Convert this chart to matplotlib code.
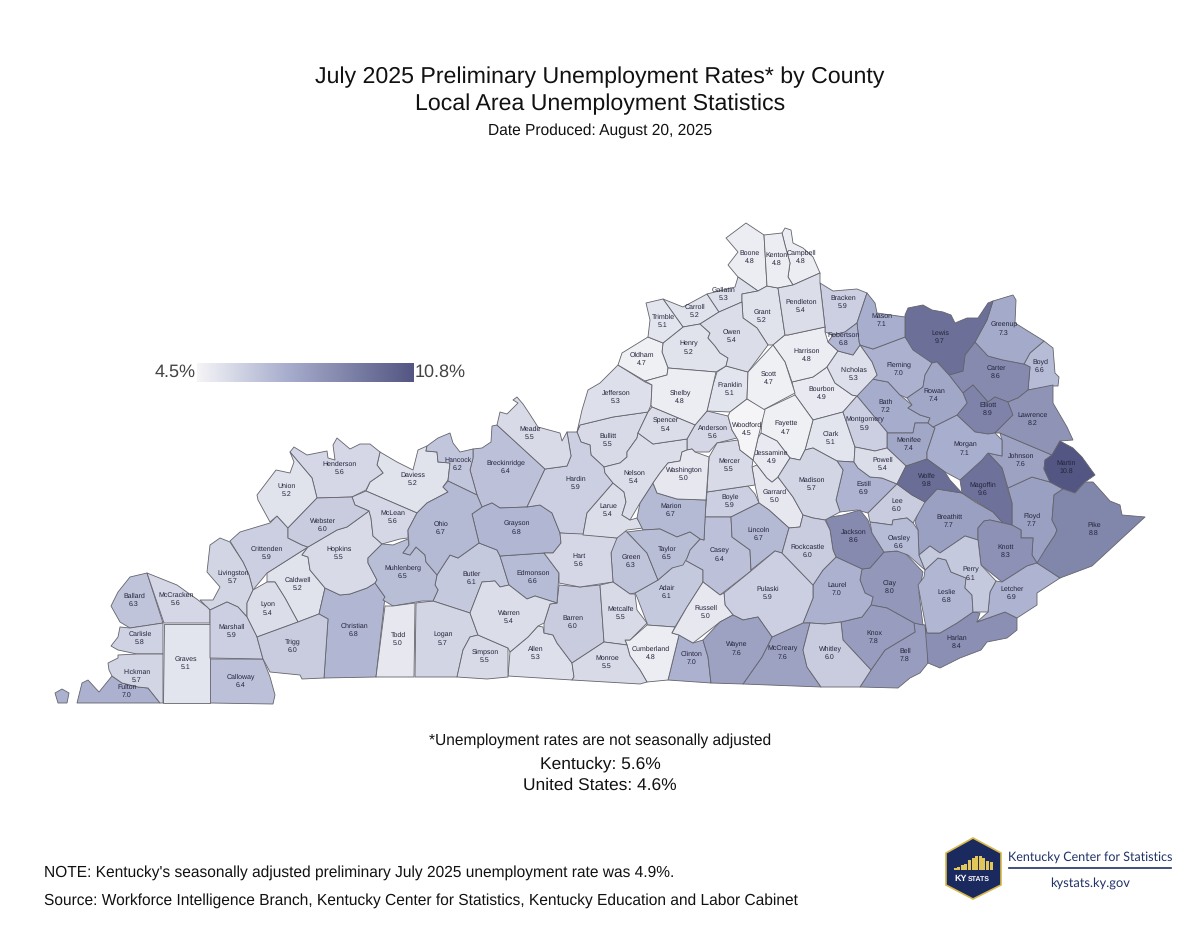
import numpy as np
import matplotlib
matplotlib.use('Agg')
import matplotlib.pyplot as plt
from matplotlib.colors import LinearSegmentedColormap, Normalize

plt.rcParams['font.family'] = ['Liberation Sans', 'DejaVu Sans']
plt.rcParams['text.hinting'] = 'none'

# 郡ごとの失業率 (from the map labels)
counties = ['Adair', 'Allen', 'Anderson', 'Ballard', 'Barren', 'Bath', 'Bell', 'Boone', 'Bourbon', 'Boyd',
            'Boyle', 'Bracken', 'Breathitt', 'Breckinridge', 'Bullitt', 'Butler', 'Caldwell', 'Calloway',
            'Campbell', 'Carlisle', 'Carroll', 'Carter', 'Casey', 'Christian', 'Clark', 'Clay', 'Clinton',
            'Crittenden', 'Cumberland', 'Daviess', 'Edmonson', 'Elliott', 'Estill', 'Fayette', 'Fleming',
            'Floyd', 'Franklin', 'Fulton', 'Gallatin', 'Garrard', 'Grant', 'Graves', 'Grayson', 'Green',
            'Greenup', 'Hancock', 'Hardin', 'Harlan', 'Harrison', 'Hart', 'Henderson', 'Henry', 'Hickman',
            'Hopkins', 'Jackson', 'Jefferson', 'Jessamine', 'Johnson', 'Kenton', 'Knott', 'Knox', 'Larue',
            'Laurel', 'Lawrence', 'Lee', 'Leslie', 'Letcher', 'Lewis', 'Lincoln', 'Livingston', 'Logan',
            'Lyon', 'McCracken', 'McCreary', 'McLean', 'Madison', 'Magoffin', 'Marion', 'Marshall', 'Martin',
            'Mason', 'Meade', 'Menifee', 'Mercer', 'Metcalfe', 'Monroe', 'Montgomery', 'Morgan', 'Muhlenberg',
            'Nelson', 'Nicholas', 'Ohio', 'Oldham', 'Owen', 'Owsley', 'Pendleton', 'Perry', 'Pike', 'Powell',
            'Pulaski', 'Robertson', 'Rockcastle', 'Rowan', 'Russell', 'Scott', 'Shelby', 'Simpson', 'Spencer',
            'Taylor', 'Todd', 'Trigg', 'Trimble', 'Union', 'Warren', 'Washington', 'Wayne', 'Webster',
            'Whitley', 'Wolfe', 'Woodford']
rates = [6.1, 5.3, 5.6, 6.3, 6.0, 7.2, 7.8, 4.8, 4.9, 6.6,
         5.9, 5.9, 7.7, 6.4, 5.5, 6.1, 5.2, 6.4,
         4.8, 5.8, 5.2, 8.6, 6.4, 6.8, 5.1, 8.0, 7.0,
         5.9, 4.8, 5.2, 6.6, 8.9, 6.9, 4.7, 7.0,
         7.7, 5.1, 7.0, 5.3, 5.0, 5.2, 5.1, 6.8, 6.3,
         7.3, 6.2, 5.9, 8.4, 4.8, 5.6, 5.6, 5.2, 5.7,
         5.5, 8.6, 5.3, 4.9, 7.6, 4.8, 8.3, 7.8, 5.4,
         7.0, 8.2, 6.0, 6.8, 6.9, 9.7, 6.7, 5.7, 5.7,
         5.4, 5.6, 7.6, 5.6, 5.7, 9.6, 6.7, 5.9, 10.8,
         7.1, 5.5, 7.4, 5.5, 5.5, 5.5, 5.9, 7.1, 6.5,
         5.4, 5.3, 6.7, 4.7, 5.4, 6.6, 5.4, 6.1, 8.8, 5.4,
         5.9, 6.8, 6.0, 7.4, 5.0, 4.7, 4.8, 5.5, 5.4,
         6.5, 5.0, 6.0, 5.1, 5.2, 5.4, 5.0, 7.6, 6.0,
         6.0, 9.8, 4.5]

outlines = {
    'Fulton': [(77,703),(82,683),(88,680),(99,692),(112,676),(122,683),(138,687),(148,688),(160,703)],
    'Hickman': [(108,663),(118,658),(118,655),(137,654),(163,654),(163,703),(160,703),(148,688),(138,687),(122,683),(112,676),(109,670)],
    'Carlisle': [(120,627),(130,628),(150,625),(163,623),(163,654),(137,654),(118,650),(111,646),(118,637)],
    'Ballard': [(147,573),(163,623),(150,625),(130,628),(120,622),(111,606),(118,592),(130,577)],
    'McCracken': [(147,573),(177,585),(198,600),(207,607),(210,610),(210,623),(164,623)],
    'Graves': [(164,624),(210,624),(210,703),(163,703)],
    'Marshall': [(210,610),(227,602),(238,607),(247,617),(257,637),(263,659),(210,658)],
    'Calloway': [(210,659),(263,659),(270,677),(275,695),(273,704),(210,703)],
    'Livingston': [(220,538),(230,542),(243,562),(249,575),(253,590),(247,603),(247,617),(238,607),(227,602),(210,610),(207,607),(200,600),(213,600),(220,587),(207,572),(210,545)],
    'Crittenden': [(230,541),(240,532),(270,523),(277,516),(288,528),(288,538),(302,545),(308,547),(267,573),(253,590),(249,575),(243,562)],
    'Union': [(290,452),(312,478),(317,498),(288,528),(277,516),(270,522),(258,500),(257,495),(276,470),(290,473),(294,462)],
    'Henderson': [(290,452),(294,447),(307,455),(327,451),(328,458),(335,460),(333,445),(337,438),(350,449),(360,444),(370,444),(380,452),(377,465),(383,473),(370,482),(366,490),(352,497),(317,498),(312,478)],
    'Webster': [(317,498),(352,497),(355,505),(369,511),(347,527),(337,530),(308,547),(302,545),(288,538),(288,528)],
    'Daviess': [(380,452),(397,462),(413,470),(418,450),(427,446),(426,451),(437,452),(438,462),(450,463),(448,480),(443,487),(448,492),(427,503),(417,513),(366,491),(370,482),(383,473),(377,465)],
    'Hancock': [(427,446),(438,438),(450,433),(453,443),(460,452),(473,449),(473,458),(470,470),(477,495),(448,481),(450,463),(438,462),(437,452),(426,451)],
    'McLean': [(352,497),(366,491),(417,513),(408,530),(408,538),(400,539),(382,544),(373,536),(371,518),(369,511),(355,505)],
    'Ohio': [(448,481),(477,495),(482,507),(472,514),(479,543),(458,558),(450,555),(437,575),(426,562),(425,555),(416,547),(410,555),(403,553),(409,545),(408,530),(417,513),(427,503),(448,492),(443,487)],
    'Muhlenberg': [(368,558),(382,544),(393,545),(408,539),(409,545),(403,553),(410,555),(416,547),(425,555),(426,562),(437,575),(435,585),(438,590),(433,601),(422,601),(393,606),(383,600),(385,597),(375,583),(377,580),(368,563)],
    'Christian': [(325,588),(340,595),(350,594),(367,588),(375,583),(385,597),(376,677),(324,678),(328,619),(319,614)],
    'Hopkins': [(369,511),(371,518),(373,536),(382,544),(368,558),(368,563),(377,580),(375,583),(367,588),(350,594),(340,595),(325,588),(310,570),(308,557),(302,555),(308,547),(337,530),(347,527)],
    'Caldwell': [(267,573),(308,547),(302,555),(308,557),(310,570),(325,588),(319,614),(298,622),(285,598),(275,582),(267,582)],
    'Lyon': [(253,590),(267,582),(275,582),(285,598),(298,622),(257,637),(247,617),(247,603)],
    'Trigg': [(257,637),(298,622),(319,614),(328,619),(324,678),(302,679),(300,675),(270,672),(263,659)],
    'Todd': [(385,606),(393,606),(415,603),(414,677),(376,677)],
    'Logan': [(416,603),(433,601),(470,613),(478,635),(470,637),(463,650),(457,677),(415,677)],
    'Butler': [(433,601),(438,590),(435,585),(437,575),(450,555),(458,558),(479,543),(497,550),(500,556),(509,585),(500,587),(495,581),(482,582),(470,613)],
    'Warren': [(482,582),(495,581),(500,587),(509,585),(527,599),(535,596),(557,603),(550,604),(544,623),(538,626),(528,637),(510,652),(508,648),(478,635),(470,613)],
    'Simpson': [(478,635),(508,648),(508,677),(487,679),(457,677),(463,650),(470,637)],
    'Allen': [(510,652),(528,637),(538,626),(543,627),(544,633),(553,635),(557,643),(572,663),(574,677),(572,680),(508,676)],
    'Edmonson': [(500,556),(544,553),(559,573),(557,603),(535,596),(527,599),(509,585)],
    'Grayson': [(472,514),(482,507),(492,503),(500,508),(527,507),(540,505),(552,513),(560,533),(561,543),(553,553),(544,553),(500,556),(497,550),(479,543)],
    'Breckinridge': [(492,426),(497,425),(545,469),(527,507),(500,508),(492,503),(482,507),(477,495),(470,470),(473,458),(473,449),(482,448),(491,442)],
    'Meade': [(497,425),(500,412),(507,414),(518,403),(513,400),(517,397),(523,404),(529,413),(538,427),(560,433),(562,441),(567,432),(571,456),(567,466),(545,469)],
    'Hardin': [(567,432),(577,432),(581,442),(590,445),(591,455),(604,467),(605,473),(613,483),(587,513),(583,535),(560,533),(552,513),(540,505),(527,507),(545,469),(567,466),(571,456)],
    'Jefferson': [(618,365),(645,382),(652,385),(651,405),(648,412),(613,417),(580,425),(577,432),(582,410),(588,390),(600,383)],
    'Bullitt': [(577,432),(580,425),(613,417),(648,412),(638,433),(637,438),(627,452),(627,457),(620,463),(604,467),(591,455),(590,445),(581,442)],
    'Spencer': [(652,407),(695,425),(687,439),(653,444),(638,433),(648,412)],
    'Nelson': [(638,433),(653,444),(687,439),(687,450),(682,452),(680,461),(668,463),(660,473),(653,483),(640,503),(630,520),(622,515),(626,502),(624,492),(613,483),(605,473),(604,467),(620,463),(627,457),(627,452),(637,438)],
    'Larue': [(613,483),(624,492),(626,502),(622,515),(630,520),(637,518),(643,528),(627,530),(617,538),(583,535),(587,513)],
    'Washington': [(653,483),(660,473),(668,463),(680,461),(682,452),(687,450),(692,449),(695,452),(709,457),(706,500),(677,499),(657,493)],
    'Marion': [(653,483),(657,493),(677,499),(706,500),(704,540),(700,539),(690,532),(677,537),(660,529),(643,530),(637,518),(640,503)],
    'Green': [(618,529),(627,532),(647,553),(658,580),(635,593),(630,594),(613,582),(611,553)],
    'Taylor': [(627,532),(643,530),(660,529),(677,537),(690,532),(700,539),(690,550),(687,558),(683,565),(672,568),(658,580),(647,553)],
    'Hart': [(560,533),(583,534),(617,538),(611,553),(613,582),(580,587),(559,583),(559,573),(544,553),(553,553),(561,543)],
    'Barren': [(559,585),(580,587),(600,585),(604,642),(572,663),(557,643),(553,635),(544,633),(544,623),(550,604),(557,603)],
    'Metcalfe': [(600,585),(613,582),(630,594),(635,594),(637,610),(647,623),(630,640),(625,640),(627,645),(604,642)],
    'Monroe': [(574,677),(572,663),(604,642),(627,645),(630,656),(640,670),(647,682),(640,684),(572,680)],
    'Cumberland': [(647,625),(675,627),(672,633),(679,635),(668,680),(647,682),(640,670),(630,656),(627,645),(625,640),(630,640)],
    'Adair': [(635,593),(658,580),(672,568),(683,559),(703,570),(703,582),(687,607),(675,627),(647,625),(647,623),(637,597)],
    'Casey': [(700,539),(704,540),(705,517),(731,517),(732,537),(750,550),(751,571),(720,595),(703,582),(703,570),(683,559),(687,558),(690,550)],
    'Boyle': [(707,492),(748,486),(755,494),(759,503),(731,517),(705,517)],
    'Mercer': [(709,457),(717,443),(738,440),(740,450),(753,460),(752,467),(755,485),(748,486),(707,492)],
    'Anderson': [(687,439),(695,425),(707,411),(728,416),(732,430),(737,438),(717,443),(709,452),(695,452),(692,449),(687,450)],
    'Woodford': [(730,412),(747,399),(765,410),(758,438),(753,460),(740,450),(738,440),(732,430),(728,416)],
    'Lincoln': [(731,517),(759,503),(769,510),(789,528),(782,553),(775,551),(751,570),(750,550),(732,537)],
    'Garrard': [(752,467),(757,465),(767,478),(772,482),(778,477),(793,497),(803,515),(800,527),(789,528),(769,510),(759,503),(755,485)],
    'Jessamine': [(761,433),(777,441),(790,458),(778,477),(772,482),(767,478),(757,465),(753,460),(758,438)],
    'Fayette': [(763,410),(795,395),(813,420),(805,450),(800,460),(790,458),(777,441),(761,433)],
    'Scott': [(748,372),(773,345),(785,362),(795,393),(763,410),(747,399)],
    'Franklin': [(717,372),(726,366),(748,372),(747,399),(730,412),(707,411),(713,385)],
    'Shelby': [(645,381),(667,375),(668,368),(716,372),(713,385),(707,411),(695,425),(652,407),(651,405),(652,385)],
    'Oldham': [(618,365),(622,353),(648,337),(663,343),(662,352),(668,368),(667,375),(645,381)],
    'Henry': [(663,343),(683,327),(700,324),(710,333),(708,338),(715,346),(720,353),(728,358),(726,366),(716,372),(668,368),(662,352)],
    'Trimble': [(646,303),(663,299),(683,327),(663,343),(648,337),(650,320)],
    'Carroll': [(663,299),(683,307),(707,294),(719,312),(700,324),(683,327)],
    'Gallatin': [(707,294),(735,287),(738,277),(758,291),(742,294),(742,302),(719,312)],
    'Owen': [(700,324),(719,312),(742,302),(743,318),(757,328),(768,345),(748,372),(726,366),(728,358),(720,353),(715,346),(708,338),(710,333)],
    'Grant': [(742,294),(758,291),(767,286),(778,288),(785,335),(773,345),(768,345),(757,328),(743,318),(742,302)],
    'Boone': [(726,238),(746,223),(764,235),(767,286),(758,291),(738,277),(728,265),(738,252)],
    'Kenton': [(764,235),(782,233),(785,245),(790,263),(788,277),(793,285),(778,288),(767,286)],
    'Campbell': [(782,233),(785,228),(791,230),(793,243),(803,248),(813,257),(820,273),(793,285),(788,277),(790,263),(785,245)],
    'Pendleton': [(778,288),(793,285),(820,273),(820,283),(825,327),(788,335),(785,335)],
    'Bracken': [(820,283),(833,291),(857,289),(867,293),(857,323),(845,332),(833,335),(825,332),(825,327)],
    'Robertson': [(828,342),(833,335),(845,332),(857,323),(859,342),(860,345),(853,355),(838,351)],
    'Mason': [(867,293),(875,303),(877,313),(905,317),(905,337),(873,349),(860,345),(859,342),(857,323)],
    'Harrison': [(785,335),(788,335),(825,327),(825,332),(828,342),(838,351),(827,367),(813,377),(792,382),(785,362),(773,345)],
    'Nicholas': [(838,351),(853,355),(860,345),(872,362),(877,375),(857,396),(852,395),(835,383),(827,367)],
    'Bourbon': [(792,382),(813,377),(827,367),(835,383),(852,395),(857,396),(843,412),(813,420),(795,395)],
    'Clark': [(813,420),(843,412),(855,447),(854,462),(837,461),(813,448),(805,450)],
    'Montgomery': [(843,412),(857,396),(887,432),(887,448),(875,451),(855,447)],
    'Bath': [(857,396),(872,379),(888,382),(900,395),(912,405),(908,408),(920,415),(930,418),(928,423),(915,423),(913,433),(888,433),(887,432)],
    'Fleming': [(873,349),(905,337),(932,363),(925,375),(923,387),(907,398),(900,395),(888,382),(872,379),(877,375),(872,362),(860,345)],
    'Lewis': [(905,315),(908,308),(923,305),(932,310),(943,312),(951,315),(955,323),(967,318),(978,318),(988,303),(993,301),(987,320),(975,342),(965,355),(963,371),(949,375),(937,362),(932,363),(913,350),(905,337)],
    'Greenup': [(993,301),(1013,295),(1016,300),(1015,323),(1044,341),(1030,353),(1024,364),(1003,360),(988,356),(975,342),(987,320)],
    'Boyd': [(1044,341),(1053,348),(1055,373),(1059,377),(1058,386),(1053,386),(1028,390),(1030,367),(1024,364),(1030,353)],
    'Carter': [(975,342),(988,356),(1003,360),(1024,364),(1030,367),(1028,390),(1018,398),(1008,402),(995,397),(988,402),(973,385),(963,393),(949,375),(963,371),(965,355)],
    'Rowan': [(937,362),(949,375),(963,393),(967,403),(957,415),(933,427),(928,423),(930,418),(920,415),(908,408),(912,405),(907,398),(923,387),(925,375),(932,363)],
    'Elliott': [(973,385),(988,402),(995,397),(1008,402),(1013,415),(995,433),(988,434),(975,432),(959,417),(957,415),(967,403),(963,393)],
    'Lawrence': [(1008,402),(1018,398),(1028,390),(1053,385),(1053,403),(1067,427),(1073,440),(1060,441),(1052,455),(1000,433),(995,433),(1013,415)],
    'Morgan': [(933,427),(957,415),(959,417),(975,432),(988,434),(995,433),(1002,440),(1002,456),(988,453),(982,460),(960,480),(945,472),(927,459),(927,452),(935,428)],
    'Menifee': [(887,433),(888,433),(913,433),(915,423),(928,423),(935,428),(927,452),(927,459),(913,464),(906,466),(887,448)],
    'Powell': [(855,447),(875,451),(887,448),(906,466),(897,484),(882,478),(870,477),(858,468),(854,462)],
    'Wolfe': [(906,466),(927,459),(945,472),(950,480),(962,493),(937,489),(925,502),(912,495),(897,484)],
    'Magoffin': [(960,480),(982,460),(980,453),(988,453),(1002,468),(1008,490),(1012,503),(1012,525),(1002,522),(993,512),(962,493)],
    'Johnson': [(1000,433),(1052,455),(1045,460),(1044,469),(1050,482),(1032,477),(1008,488),(1002,468),(988,453),(1002,456),(1002,440)],
    'Martin': [(1045,460),(1052,455),(1060,441),(1073,448),(1082,457),(1095,475),(1085,482),(1075,493),(1063,489),(1050,482),(1044,469)],
    'Pike': [(1075,493),(1085,482),(1093,482),(1102,492),(1110,501),(1120,505),(1122,515),(1145,517),(1092,566),(1060,578),(1037,563),(1045,550),(1055,535),(1057,530),(1052,520),(1054,495),(1063,489)],
    'Floyd': [(1008,488),(1032,477),(1050,482),(1063,489),(1054,495),(1052,520),(1057,530),(1055,535),(1045,550),(1044,557),(1037,563),(1032,555),(1033,538),(1021,538),(1021,530),(1012,525),(1012,503)],
    'Knott': [(978,528),(984,521),(990,520),(1003,523),(1012,525),(1021,530),(1021,538),(1033,538),(1032,555),(1037,563),(1027,566),(1002,582),(981,565),(978,540)],
    'Letcher': [(1002,582),(1027,566),(1037,563),(1048,570),(1060,578),(1037,593),(1037,605),(1017,618),(1005,612),(977,622),(988,612),(990,592),(996,581)],
    'Perry': [(919,555),(930,546),(940,553),(965,536),(978,540),(981,565),(996,581),(990,592),(988,612),(973,612),(972,595),(965,588),(966,578),(951,572),(946,560),(938,558),(925,570)],
    'Leslie': [(925,570),(938,558),(946,560),(951,572),(966,578),(965,588),(972,595),(973,612),(957,623),(940,633),(927,633),(918,585),(924,577)],
    'Harlan': [(927,633),(940,633),(957,623),(973,612),(980,613),(977,622),(1005,612),(1017,618),(1017,630),(1007,638),(987,642),(981,650),(960,658),(940,668),(928,663),(925,625)],
    'Bell': [(914,623),(925,625),(927,633),(928,663),(920,673),(910,678),(898,688),(860,687),(871,670),(885,650),(915,632)],
    'Knox': [(841,622),(862,617),(871,605),(887,608),(914,623),(915,632),(885,650),(871,670),(843,640)],
    'Clay': [(884,552),(903,551),(923,572),(919,593),(923,625),(914,623),(887,608),(871,605),(873,597),(865,593),(860,580),(862,569),(870,568)],
    'Jackson': [(825,518),(843,515),(860,510),(868,520),(872,533),(884,552),(870,568),(862,569),(836,557),(833,550),(830,530)],
    'Owsley': [(870,522),(892,525),(893,520),(907,518),(913,523),(918,530),(919,555),(925,570),(908,555),(897,551),(884,552),(872,533)],
    'Lee': [(868,513),(897,484),(912,495),(925,502),(913,523),(907,518),(893,520),(892,525),(870,522)],
    'Estill': [(837,461),(854,462),(858,468),(870,477),(882,478),(897,484),(868,513),(857,510),(840,512),(836,500),(843,470)],
    'Madison': [(778,477),(790,458),(800,460),(805,450),(813,448),(837,461),(843,470),(836,500),(840,512),(825,520),(813,518),(803,515),(793,497)],
    'Rockcastle': [(789,528),(800,527),(803,515),(813,518),(825,520),(830,530),(833,550),(836,557),(823,570),(813,585),(782,553)],
    'Pulaski': [(724,593),(751,571),(775,551),(782,553),(813,585),(813,598),(803,623),(772,637),(758,617),(743,620),(733,615),(725,605)],
    'Laurel': [(836,557),(862,569),(860,580),(865,593),(873,597),(871,605),(862,617),(841,622),(825,624),(810,623),(803,623),(813,598),(813,585),(823,570)],
    'Whitley': [(810,623),(825,624),(841,622),(843,640),(871,670),(860,687),(821,687),(807,667),(803,650)],
    'McCreary': [(743,684),(762,657),(772,637),(803,623),(810,623),(803,650),(807,667),(821,687)],
    'Wayne': [(703,640),(720,622),(733,615),(743,620),(758,617),(772,637),(762,657),(743,684),(711,683),(708,657)],
    'Clinton': [(679,635),(693,643),(703,640),(708,657),(711,683),(668,680)],
    'Russell': [(703,582),(720,595),(724,593),(725,605),(733,615),(720,622),(693,643),(679,635),(672,633),(687,607)],
    'Breathitt': [(915,522),(922,501),(925,502),(937,489),(962,493),(975,502),(993,512),(1003,523),(990,520),(984,521),(978,528),(978,540),(965,536),(940,553),(930,546),(919,555),(918,530)],
}
fulton_island = [(55,693),(62,689),(69,693),(67,703),(58,703)]

# ラベルの位置
label_xy = {
    'Adair': (667,592), 'Allen': (536,653), 'Anderson': (713,432), 'Ballard': (134,600), 'Barren': (573,622),
    'Bath': (886,406), 'Bell': (905,655), 'Boone': (750,257), 'Bourbon': (822,393), 'Boyd': (1040,366),
    'Boyle': (730,501), 'Bracken': (843,302), 'Breathitt': (949,521), 'Breckinridge': (506,467), 'Bullitt': (608,440),
    'Butler': (472,578), 'Caldwell': (298,584), 'Calloway': (241,681), 'Campbell': (801,257), 'Carlisle': (140,638),
    'Carroll': (695,311), 'Carter': (996,372), 'Casey': (720,555), 'Christian': (354,630), 'Clark': (831,438),
    'Clay': (890,587), 'Clinton': (692,658), 'Crittenden': (267,553), 'Cumberland': (651,653), 'Daviess': (413,479),
    'Edmonson': (533,577), 'Elliott': (988,409), 'Estill': (864,488), 'Fayette': (786,428), 'Fleming': (899,369),
    'Floyd': (1032,520), 'Franklin': (730,389), 'Fulton': (127,691), 'Gallatin': (724,294), 'Garrard': (775,496),
    'Grant': (762,316), 'Graves': (186,663), 'Grayson': (517,528), 'Green': (631,561), 'Greenup': (1004,329),
    'Hancock': (458,464), 'Hardin': (576,483), 'Harlan': (957,642), 'Harrison': (807,355), 'Hart': (579,560),
    'Henderson': (340,468), 'Henry': (689,348), 'Hickman': (137,676), 'Hopkins': (339,553), 'Jackson': (854,536),
    'Jefferson': (616,397), 'Jessamine': (772,457), 'Johnson': (1021,460), 'Kenton': (777,259), 'Knott': (1006,551),
    'Knox': (874,637), 'Larue': (608,510), 'Laurel': (837,589), 'Lawrence': (1033,419), 'Lee': (897,505),
    'Leslie': (947,596), 'Letcher': (1012,593), 'Lewis': (940,337), 'Lincoln': (759,534), 'Livingston': (233,577),
    'Logan': (443,639), 'Lyon': (268,609), 'McCracken': (176,599), 'McCreary': (783,653), 'McLean': (393,517),
    'Madison': (812,484), 'Magoffin': (983,489), 'Marion': (671,510), 'Marshall': (232,631), 'Martin': (1066,467),
    'Mason': (882,320), 'Meade': (530,433), 'Menifee': (909,444), 'Mercer': (729,465), 'Metcalfe': (621,613),
    'Monroe': (607,662), 'Montgomery': (865,424), 'Morgan': (965,449), 'Muhlenberg': (403,572), 'Nelson': (634,477),
    'Nicholas': (854,374), 'Ohio': (441,528), 'Oldham': (642,359), 'Owen': (732,336), 'Owsley': (899,542),
    'Pendleton': (801,306), 'Perry': (971,574), 'Pike': (1094,529), 'Powell': (883,464), 'Pulaski': (768,593),
    'Robertson': (844,339), 'Rockcastle': (808,551), 'Rowan': (934,395), 'Russell': (706,612), 'Scott': (769,378),
    'Shelby': (680,397), 'Simpson': (485,656), 'Spencer': (666,425), 'Taylor': (667,553), 'Todd': (398,639),
    'Trigg': (293,646), 'Trimble': (663,321), 'Union': (287,490), 'Warren': (509,617), 'Washington': (684,474),
    'Wayne': (737,649), 'Webster': (323,525), 'Whitley': (830,653), 'Wolfe': (927,480), 'Woodford': (747,429),
}

# ロゴのバーの高さ
logo_bar_heights = [2, 3, 5, 6, 10, 12, 14, 14, 12, 9, 8]

# 色は薄いグレーから濃い紺へ
cmap = LinearSegmentedColormap.from_list('kystats', [(0.0, '#f5f5f7'), (0.4, '#aab0cf'), (1.0, '#535682')])
norm = Normalize(4.5, 10.8)

fig = plt.figure(figsize=(12, 9.27), dpi=100)
ax = fig.add_axes([0, 0, 1, 1])
ax.set_xlim(0, 1200)
ax.set_ylim(927, 0)
ax.axis('off')

for name, rate in zip(counties, rates):
    xs, ys = zip(*outlines[name])
    ax.fill(xs, ys, facecolor=cmap(norm(rate)), edgecolor='#63636b', linewidth=0.6, joinstyle='round')
    x, y = label_xy[name]
    ax.text(x, y, f'{name}\n{rate:.1f}', ha='center', va='center', fontsize=5, color='#23233a', linespacing=1.3)

xs, ys = zip(*fulton_island)
ax.fill(xs, ys, facecolor=cmap(norm(rates[counties.index('Fulton')])), edgecolor='#63636b', linewidth=0.6)

# タイトル
ax.text(600, 77, 'July 2025 Preliminary Unemployment Rates* by County', ha='center', va='center', fontsize=16.7, color='#111111')
ax.text(600, 104, 'Local Area Unemployment Statistics', ha='center', va='center', fontsize=16.7, color='#111111')
ax.text(600, 131, 'Date Produced: August 20, 2025', ha='center', va='center', fontsize=11.2, color='#111111')

# 凡例
gradient = np.linspace(0, 1, 256).reshape(1, -1)
ax.imshow(gradient, extent=(197, 414, 382, 363), cmap=cmap, aspect='auto', zorder=2)
ax.text(196, 372, '4.5%', ha='right', va='center', fontsize=13, color='#444444')
ax.text(415, 372, '10.8%', ha='left', va='center', fontsize=13, color='#444444')

# 注記
ax.text(600, 741, '*Unemployment rates are not seasonally adjusted', ha='center', va='center', fontsize=11.2, color='#111111')
ax.text(600, 764, 'Kentucky: 5.6%', ha='center', va='center', fontsize=12.5, color='#111111')
ax.text(600, 785, 'United States: 4.6%', ha='center', va='center', fontsize=12.5, color='#111111')
ax.text(44, 873, "NOTE: Kentucky's seasonally adjusted preliminary July 2025 unemployment rate was 4.9%.", ha='left', va='center', fontsize=11.2, color='#111111')
ax.text(44, 901, 'Source: Workforce Intelligence Branch, Kentucky Center for Statistics, Kentucky Education and Labor Cabinet', ha='left', va='center', fontsize=11.2, color='#111111')

# ロゴ
ax.fill([973, 1001, 1001, 973, 946, 946], [838, 853, 885, 899, 885, 853], facecolor='#1b2a5e', edgecolor='#d9b84a', linewidth=1.2)
bar_x = np.linspace(955, 991, len(logo_bar_heights))
ax.bar(bar_x, logo_bar_heights, width=3, bottom=[870 - h for h in logo_bar_heights], color='#e3c65a')
ax.text(954, 878.5, 'KY', ha='left', va='center', fontsize=6.5, fontweight='bold', color='white')
ax.text(967.5, 879, 'STATS', ha='left', va='center', fontsize=5, fontweight='bold', color='white')
ax.text(1090, 857, 'Kentucky Center for Statistics', ha='center', va='center', fontsize=9, family='Lato', color='#1f3268')
ax.plot([1009, 1171], [868, 868], color='#1f3268', linewidth=1.2)
ax.text(1090, 883, 'kystats.ky.gov', ha='center', va='center', fontsize=9.3, family='Lato', color='#1f3268')
ax.set_xlim(0, 1200)
ax.set_ylim(927, 0)

fig.savefig('out.png', dpi=100, facecolor='white')
